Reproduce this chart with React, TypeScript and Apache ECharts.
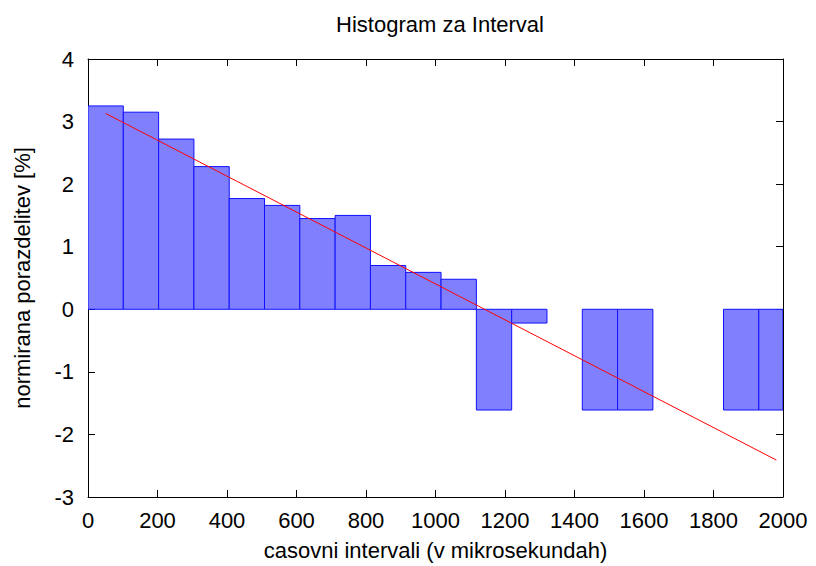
import React, { useEffect, useRef } from "react";
import * as echarts from "echarts";

const binStarts = [0, 101.6, 203.2, 304.8, 406.4, 508, 609.6, 711.2, 812.8, 914.4, 1016, 1117.6, 1219.2, 1320.8, 1422.4, 1524, 1625.6, 1727.2, 1828.8, 1930.4];
const binEnds = [101.6, 203.2, 304.8, 406.4, 508, 609.6, 711.2, 812.8, 914.4, 1016, 1117.6, 1219.2, 1320.8, 1422.4, 1524, 1625.6, 1727.2, 1828.8, 1930.4, 2032];
const binValues: (number | null)[] = [3.25, 3.15, 2.72, 2.28, 1.77, 1.66, 1.45, 1.5, 0.7, 0.59, 0.48, -1.61, -0.22, null, -1.61, -1.61, null, null, -1.61, -1.61];
const fitX = [50.8, 1981];
const fitY = [3.13, -2.41];

const xTicks = { min: 0, max: 2000, interval: 200 };
const yTicks = { min: -3, max: 4, interval: 1 };

const FONT = "Liberation Sans, Arial, sans-serif";
const FS = 22;

export default function App() {
  const ref = useRef<HTMLDivElement>(null);
  useEffect(() => {
    if (!ref.current) return;
    const chart = echarts.init(ref.current, null, { renderer: "svg" });
    const barData = binValues
      .map((v, i) => (v === null ? null : [binStarts[i], binEnds[i], v]))
      .filter((d) => d !== null);
    const axisCommon = {
      axisLine: { show: true, onZero: false, lineStyle: { color: "#000", width: 1 } },
      axisTick: { show: true, inside: true, length: 7, lineStyle: { color: "#000" } },
      splitLine: { show: false },
    };
    chart.setOption({
      animation: false,
      backgroundColor: "#fff",
      textStyle: { fontFamily: FONT },
      title: {
        text: "Histogram za Interval",
        left: 435,
        top: 8,
        textAlign: "center",
        textStyle: { fontFamily: FONT, fontSize: FS, fontWeight: "normal", color: "#000" },
      },
      grid: { left: 88, right: 33, top: 59, bottom: 69, containLabel: false, outerBoundsMode: "none" },
      xAxis: [
        {
          type: "value",
          position: "bottom",
          ...xTicks,
          ...axisCommon,
          axisLabel: { fontFamily: FONT, fontSize: FS, color: "#000", margin: 12, formatter: (v: number) => String(v) },
          name: "casovni intervali (v mikrosekundah)",
          nameLocation: "middle",
          nameGap: 42,
          nameTextStyle: { fontFamily: FONT, fontSize: FS, color: "#000" },
        },
        {
          type: "value",
          position: "top",
          ...xTicks,
          ...axisCommon,
          axisLabel: { show: false },
        },
      ],
      yAxis: [
        {
          type: "value",
          position: "left",
          ...yTicks,
          ...axisCommon,
          axisLabel: { fontFamily: FONT, fontSize: FS, color: "#000", margin: 14, formatter: (v: number) => String(v) },
          name: "normirana porazdelitev [%]",
          nameLocation: "middle",
          nameRotate: 90,
          nameGap: 55,
          nameTextStyle: { fontFamily: FONT, fontSize: FS, color: "#000" },
        },
        {
          type: "value",
          position: "right",
          ...yTicks,
          ...axisCommon,
          axisLabel: { show: false },
        },
      ],
      series: [
        {
          type: "custom",
          xAxisIndex: 0,
          yAxisIndex: 0,
          clip: true,
          data: barData,
          renderItem: (params: any, api: any) => {
            const x0 = api.value(0);
            const x1 = api.value(1);
            const v = api.value(2);
            const p0 = api.coord([x0, 0]);
            const p1 = api.coord([x1, v]);
            const shape = {
              x: p0[0],
              y: Math.min(p0[1], p1[1]),
              width: p1[0] - p0[0],
              height: Math.abs(p1[1] - p0[1]),
            };
            const cs = params.coordSys;
            const clipped = echarts.graphic.clipRectByRect(shape, {
              x: cs.x,
              y: cs.y,
              width: cs.width,
              height: cs.height,
            });
            if (!clipped) return null;
            return {
              type: "rect",
              shape: clipped,
              style: { fill: "#8080ff", stroke: "#1010ff", lineWidth: 1 },
            };
          },
        },
        {
          type: "line",
          xAxisIndex: 0,
          yAxisIndex: 0,
          data: fitX.map((x, i) => [x, fitY[i]]),
          symbol: "none",
          lineStyle: { color: "#ff0000", width: 1 },
          z: 5,
        },
      ],
    });
    return () => chart.dispose();
  }, []);
  return <div ref={ref} style={{ width: 816, height: 566, position: "absolute", left: 0, top: 0 }} />;
}
